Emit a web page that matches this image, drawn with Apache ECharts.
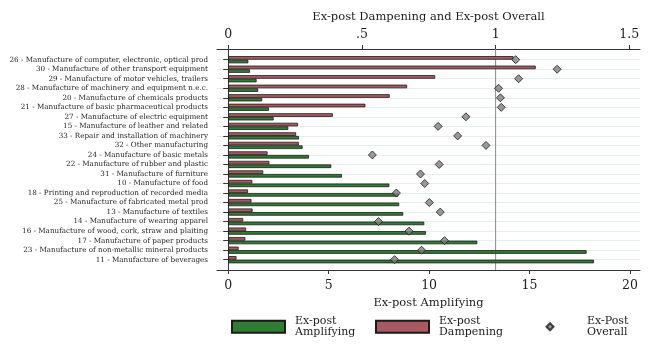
<!DOCTYPE html>
<html><head><meta charset="utf-8">
<script src="https://cdn.jsdelivr.net/npm/echarts@6.0.0/dist/echarts.min.js"></script>
<style>html,body{margin:0;padding:0;background:#fff}#c{width:654px;height:364px}</style>
</head><body><div id="c"></div>
<script>
const categories = [
 "26 - Manufacture of computer, electronic, optical prod",
 "30 - Manufacture of other transport equipment",
 "29 - Manufacture of motor vehicles, trailers",
 "28 - Manufacture of machinery and equipment n.e.c.",
 "20 - Manufacture of chemicals products",
 "21 - Manufacture of basic pharmaceutical products",
 "27 - Manufacture of electric equipment",
 "15 - Manufacture of leather and related",
 "33 - Repair and installation of machinery",
 "32 - Other manufacturing",
 "24 - Manufacture of basic metals",
 "22 - Manufacture of rubber and plastic",
 "31 - Manufacture of furniture",
 "10 - Manufacture of food",
 "18 - Printing and reproduction of recorded media",
 "25 - Manufacture of fabricated metal prod",
 "13 - Manufacture of textiles",
 "14 - Manufacture of wearing apparel",
 "16 - Manufacture of wood, cork, straw and plaiting",
 "17 - Manufacture of paper products",
 "23 - Manufacture of non-metallic mineral products",
 "11 - Manufacture of beverages"
];
const amplifying = [1.0, 1.08, 1.41, 1.49, 1.69, 2.03, 2.26, 2.99, 3.52, 3.70, 4.02, 5.13, 5.66, 8.02, 8.47, 8.51, 8.71, 9.76, 9.84, 12.40, 17.84, 18.21];
const dampening = [1.067, 1.15, 0.774, 0.669, 0.604, 0.513, 0.391, 0.261, 0.254, 0.264, 0.147, 0.154, 0.131, 0.090, 0.074, 0.087, 0.091, 0.056, 0.067, 0.064, 0.039, 0.031];
const overall = [1.075, 1.23, 1.086, 1.011, 1.018, 1.021, 0.889, 0.785, 0.858, 0.964, 0.539, 0.789, 0.719, 0.735, 0.629, 0.752, 0.793, 0.562, 0.676, 0.809, 0.723, 0.622];
const bottomTicks = [0, 5, 10, 15, 20];
const topTicks = [0, 0.5, 1, 1.5];
const refValue = 1;

const FONT = 'DejaVu Serif';
const TXT = '#1e1e1e';
const AX = '#333333';
const GREEN = '#2f7d32';
const RED = '#a85a60';

const chart = echarts.init(document.getElementById('c'), null, {renderer: 'canvas'});
const legendText = {fontFamily: FONT, fontSize: 11, lineHeight: 10.5, color: TXT, padding: [0, 0, 0, 5]};
const legendFmt = n => n.replace(' ', '\n');
chart.setOption({
  animation: false,
  backgroundColor: '#fff',
  grid: [
    {left: 217, right: 14, top: 59.7, bottom: 104.3},
    {left: 217, right: 14, top: 49, bottom: 94}
  ],
  legend: [
    {data: ['Ex-post Amplifying'], left: 231, top: 316, padding: 0, icon: 'rect', itemWidth: 53, itemHeight: 12, textStyle: legendText, formatter: legendFmt, selectedMode: false},
    {data: ['Ex-post Dampening'], left: 375, top: 316, padding: 0, icon: 'rect', itemWidth: 53, itemHeight: 12, textStyle: legendText, formatter: legendFmt, selectedMode: false},
    {data: ['Ex-Post Overall'], left: 545.5, top: 316, padding: 0, icon: 'diamond', itemWidth: 7, itemHeight: 7,
     textStyle: Object.assign({}, legendText, {padding: [0, 0, 0, 28.5]}), formatter: legendFmt, selectedMode: false}
  ],
  xAxis: [
    {type: 'value', gridIndex: 0, position: 'bottom', offset: 10.3, min: -0.56, max: 20.5,
     name: 'Ex-post Amplifying', nameLocation: 'middle', nameGap: 26,
     nameTextStyle: {fontFamily: FONT, fontSize: 11.5, color: TXT},
     axisLine: {show: true, lineStyle: {color: AX, width: 1}},
     axisTick: {show: true, length: 4, customValues: bottomTicks, lineStyle: {color: AX}},
     axisLabel: {customValues: bottomTicks, fontFamily: FONT, fontSize: 12.5, color: TXT, margin: 9},
     splitLine: {show: false}},
    {type: 'value', gridIndex: 0, position: 'top', offset: 10.7, min: -0.042, max: 1.54,
     name: 'Ex-post Dampening and Ex-post Overall', nameLocation: 'middle', nameGap: 26,
     nameTextStyle: {fontFamily: FONT, fontSize: 11.5, color: TXT},
     axisLine: {show: true, lineStyle: {color: AX, width: 1}},
     axisTick: {show: true, length: 4, customValues: topTicks, lineStyle: {color: AX}},
     axisLabel: {customValues: topTicks, fontFamily: FONT, fontSize: 12.5, color: TXT, margin: 8,
       formatter: v => (v === 0.5 ? '.5' : String(v))},
     splitLine: {show: false}},
    {type: 'value', gridIndex: 1, show: false, min: -0.042, max: 1.54}
  ],
  yAxis: [
    {type: 'category', gridIndex: 0, data: categories, inverse: true, boundaryGap: false,
     axisLine: {show: false},
     axisTick: {show: true, length: 5, lineStyle: {color: AX}},
     axisLabel: {fontFamily: FONT, fontSize: 7.2, color: TXT, margin: 9, interval: 0},
     splitLine: {show: true, lineStyle: {color: '#e6eef0', width: 1}}},
    {type: 'value', gridIndex: 1, min: 0, max: 1, position: 'left',
     axisLine: {show: true, lineStyle: {color: AX, width: 1}},
     axisTick: {show: false}, axisLabel: {show: false}, splitLine: {show: false}}
  ],
  series: [
    {name: 'Ex-post Dampening', type: 'bar', xAxisIndex: 1, yAxisIndex: 0, data: dampening,
     barWidth: 3.6, barGap: '0%',
     itemStyle: {color: RED, borderColor: '#1a1a1a', borderWidth: 0.8}},
    {name: 'Ex-post Amplifying', type: 'bar', xAxisIndex: 0, yAxisIndex: 0, data: amplifying,
     barWidth: 3.6, barGap: '0%',
     itemStyle: {color: GREEN, borderColor: '#1a1a1a', borderWidth: 0.8}},
    {name: 'Ex-Post Overall', type: 'scatter', xAxisIndex: 1, yAxisIndex: 0, data: overall,
     symbol: 'diamond', symbolSize: 8, z: 5,
     itemStyle: {color: '#7f7f7f', borderColor: '#1a1a1a', borderWidth: 1}},
    {name: 'ref', type: 'line', xAxisIndex: 2, yAxisIndex: 1, silent: true,
     data: [[refValue, 0], [refValue, 1]], symbol: 'none', z: 1,
     lineStyle: {color: '#8a8a8a', width: 1}}
  ]
});
</script>
</body></html>
